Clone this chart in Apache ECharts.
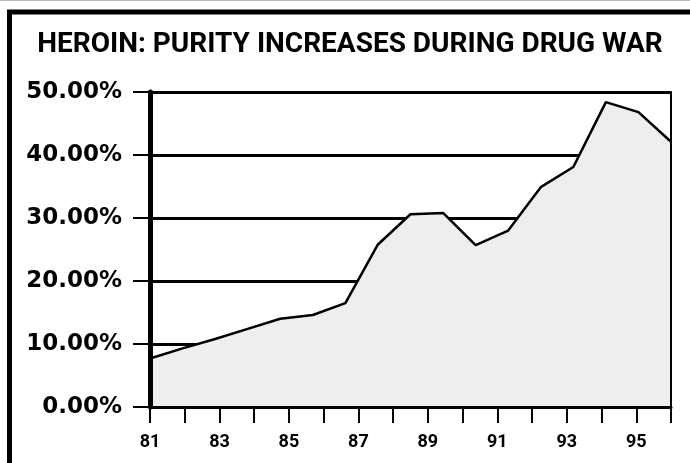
<!DOCTYPE html>
<html>
<head>
<meta charset="utf-8">
<script src="https://cdn.jsdelivr.net/npm/echarts@6/dist/echarts.min.js"></script>
<style>
html,body{margin:0;padding:0;background:#fff;}
#chart{width:690px;height:463px;}
</style>
</head>
<body>
<div id="chart"></div>
<script>
// Title
var chartTitle = 'HEROIN: PURITY INCREASES DURING DRUG WAR';
var samplePoints = ['1','2','3','4','5','6','7','8','9','10','11','12','13','14','15','16','17'];
var purity = [7.7, 9.3, 10.8, 12.4, 14.0, 14.6, 16.5, 25.8, 30.6, 30.8, 25.7, 28.0, 34.9, 38.1, 48.4, 46.8, 42.1];
// Year axis
var yearMin = 81, yearMax = 96;
var yearLabels = ['81', '83', '85', '87', '89', '91', '93', '95'];
// Percent axis
var pctMin = 0, pctMax = 50, pctStep = 10;

var chart = echarts.init(document.getElementById('chart'));
var option = {
  animation: false,
  backgroundColor: '#ffffff',
  grid: { left: 150, right: 19, top: 92, bottom: 56, containLabel: false },
  graphic: [
    { type: 'line', shape: { x1: 0, y1: 0.5, x2: 690, y2: 0.5 }, style: { stroke: '#b8b8b8', lineWidth: 1 }, z: 10 },
    { type: 'rect', shape: { x: 9.5, y: 12, width: 700, height: 480 }, style: { fill: 'none', stroke: '#000', lineWidth: 5 }, z: 10 },
    { type: 'text', x: 350, y: 45, z: 10,
      style: { text: chartTitle, fill: '#000', font: 'bold 28px Roboto', align: 'center', verticalAlign: 'middle' } }
  ],
  xAxis: [
    {
      type: 'category', data: samplePoints, boundaryGap: false, show: false
    },
    {
      type: 'value', min: yearMin, max: yearMax, interval: 1, position: 'bottom', z: 5,
      axisLine: { show: true, lineStyle: { color: '#000', width: 3 } },
      axisTick: { show: true, length: 16, lineStyle: { color: '#000', width: 2 } },
      splitLine: { show: false },
      axisLabel: {
        margin: 26, color: '#000', fontFamily: 'Roboto', fontWeight: 'bold', fontSize: 18,
        formatter: function (v) { var s = String(v); return yearLabels.indexOf(s) >= 0 ? s : ''; }
      }
    }
  ],
  yAxis: [
    {
      type: 'value', min: pctMin, max: pctMax, interval: pctStep,
      axisLine: { show: false },
      axisTick: { show: true, length: 17, lineStyle: { color: '#000', width: 2 } },
      splitLine: { show: true, lineStyle: { color: '#000', width: 3 } },
      axisLabel: {
        margin: 28, color: '#000', fontFamily: 'DejaVu Sans', fontWeight: 'bold', fontSize: 23,
        formatter: function (v) { return v.toFixed(2) + '%'; }
      }
    },
    {
      type: 'value', min: pctMin, max: pctMax, interval: pctStep, position: 'left', z: 5,
      axisLine: { show: true, lineStyle: { color: '#000', width: 5 } },
      axisTick: { show: false }, axisLabel: { show: false }, splitLine: { show: false }
    },
    {
      type: 'value', min: pctMin, max: pctMax, interval: pctStep, position: 'right', z: 5,
      axisLine: { show: true, lineStyle: { color: '#000', width: 2 } },
      axisTick: { show: false }, axisLabel: { show: false }, splitLine: { show: false }
    }
  ],
  series: [
    {
      type: 'line', xAxisIndex: 0, yAxisIndex: 0, data: purity,
      symbol: 'none', smooth: false,
      lineStyle: { color: '#000', width: 2.5 },
      areaStyle: { color: '#eeeeee', opacity: 1 }
    }
  ]
};
chart.setOption(option);
</script>
</body>
</html>
